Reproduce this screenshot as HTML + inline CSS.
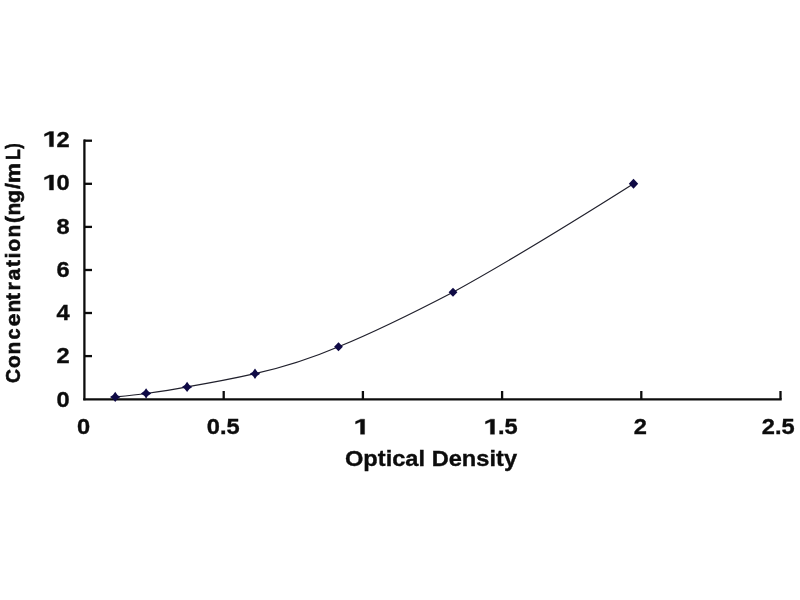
<!DOCTYPE html>
<html>
<head>
<meta charset="utf-8">
<style>
html,body{margin:0;padding:0;background:#fff;}
body{width:800px;height:600px;overflow:hidden;font-family:"Liberation Sans",sans-serif;}
.yt text{stroke-width:0.6px;}
svg{display:block;will-change:transform;opacity:0.999;}
text{font-family:"Liberation Sans",sans-serif;font-weight:bold;fill:#0c0c0c;stroke:#0c0c0c;stroke-width:0.35px;}
</style>
</head>
<body>
<svg width="800" height="600" viewBox="0 0 800 600">
<rect x="0" y="0" width="800" height="600" fill="#ffffff"/>
<g stroke="#0c0c0c" stroke-width="2.3" fill="none">
<line x1="84.4" y1="139.5" x2="84.4" y2="400.3"/>
<line x1="83.3" y1="399.3" x2="781.7" y2="399.3"/>
<line x1="84" y1="356.1" x2="92" y2="356.1"/>
<line x1="84" y1="313.0" x2="92" y2="313.0"/>
<line x1="84" y1="270.0" x2="92" y2="270.0"/>
<line x1="84" y1="226.9" x2="92" y2="226.9"/>
<line x1="84" y1="183.8" x2="92" y2="183.8"/>
<line x1="84" y1="140.7" x2="92" y2="140.7"/>
<line x1="223.7" y1="391" x2="223.7" y2="399.2"/>
<line x1="362.9" y1="391" x2="362.9" y2="399.2"/>
<line x1="502.1" y1="391" x2="502.1" y2="399.2"/>
<line x1="641.3" y1="391" x2="641.3" y2="399.2"/>
<line x1="780.5" y1="391" x2="780.5" y2="399.2"/>
</g>
<text transform="translate(69.6,406.7) scale(1.075,1)" font-size="22" text-anchor="end">0</text>
<text transform="translate(69.6,363.4) scale(1.075,1)" font-size="22" text-anchor="end">2</text>
<text transform="translate(69.6,319.9) scale(1.075,1)" font-size="22" text-anchor="end">4</text>
<text transform="translate(69.6,276.5) scale(1.075,1)" font-size="22" text-anchor="end">6</text>
<text transform="translate(69.6,233.6) scale(1.075,1)" font-size="22" text-anchor="end">8</text>
<polygon points="49.40,190.10 49.40,177.53 44.46,179.80 44.46,177.42 49.62,174.96 53.50,174.96 53.50,190.10" fill="#0c0c0c" stroke="#0c0c0c" stroke-width="0.35"/>
<text transform="translate(69.6,190.1) scale(1.075,1)" font-size="22" text-anchor="end">0</text>
<polygon points="49.40,146.70 49.40,134.13 44.46,136.40 44.46,134.02 49.62,131.56 53.50,131.56 53.50,146.70" fill="#0c0c0c" stroke="#0c0c0c" stroke-width="0.35"/>
<text transform="translate(69.6,146.7) scale(1.075,1)" font-size="22" text-anchor="end">2</text>
<text transform="translate(83.5,434.3) scale(1.075,1)" font-size="22" text-anchor="middle">0</text>
<text transform="translate(223.25,434.3) scale(1.075,1)" font-size="22" text-anchor="middle">0.5</text>
<text transform="translate(640.4,434.3) scale(1.075,1)" font-size="22" text-anchor="middle">2</text>
<text transform="translate(778.25,434.3) scale(1.075,1)" font-size="22" text-anchor="middle">2.5</text>
<polygon points="360.50,434.30 360.50,421.73 355.56,424.00 355.56,421.62 360.72,419.16 364.60,419.16 364.60,434.30" fill="#0c0c0c" stroke="#0c0c0c" stroke-width="0.35"/>
<polygon points="490.40,434.30 490.40,421.73 485.46,424.00 485.46,421.62 490.62,419.16 494.50,419.16 494.50,434.30" fill="#0c0c0c" stroke="#0c0c0c" stroke-width="0.35"/>
<text transform="translate(498.0,434.3) scale(1.075,1)" font-size="22" text-anchor="start">.5</text>
<text transform="translate(431,465.6) scale(1.075,1)" font-size="22" text-anchor="middle">Optical Density</text>
<g class="yt" font-size="21" text-anchor="middle">
<text transform="translate(20.3,376.0) rotate(-90) scale(0.92,1)">C</text>
<text transform="translate(20.3,361.5) rotate(-90) scale(1,1)">o</text>
<text transform="translate(20.3,348.0) rotate(-90) scale(1,1)">n</text>
<text transform="translate(20.3,334.0) rotate(-90) scale(0.94,1)">c</text>
<text transform="translate(20.3,320.0) rotate(-90) scale(1.08,1)">e</text>
<text transform="translate(20.3,306.0) rotate(-90) scale(1,1)">n</text>
<text transform="translate(20.3,296.5) rotate(-90) scale(1,1)">t</text>
<text transform="translate(20.3,286.5) rotate(-90) scale(1,1)">r</text>
<text transform="translate(20.3,274.5) rotate(-90) scale(1,1)">a</text>
<text transform="translate(20.3,263.5) rotate(-90) scale(1,1)">t</text>
<text transform="translate(20.3,255.5) rotate(-90) scale(1,1)">i</text>
<text transform="translate(20.3,245.0) rotate(-90) scale(1,1)">o</text>
<text transform="translate(20.3,231.0) rotate(-90) scale(1,1)">n</text>
<text transform="translate(20.3,219.5) rotate(-90) scale(1,1)">(</text>
<text transform="translate(20.3,209.0) rotate(-90) scale(1,1)">n</text>
<text transform="translate(20.3,196.5) rotate(-90) scale(1,1)">g</text>
<text transform="translate(20.3,186.0) rotate(-90) scale(1,1)">/</text>
<text transform="translate(20.3,173.0) rotate(-90) scale(1.08,1)">m</text>
<text transform="translate(20.3,154.5) rotate(-90) scale(0.84,1)">L</text>
<text transform="translate(20.3,146.0) rotate(-90) scale(0.78,1)">)</text>
</g>
<path d="M115.2,396.9 C125,396 136,395 146.1,393.5 C160,391.6 174,389.4 187.1,386.9 C210,383 233,378.7 255,373.7 C283,367.4 311,358.6 338.5,346.8 C377,331 415,312 453,292.2 C513,259.2 573,222 633.5,183.75" fill="none" stroke="#20202c" stroke-width="1.2"/>
<g fill="#0f0a45">
<path d="M115.2,391.70 Q116.90,395.20 120.40,396.9 Q116.90,398.60 115.2,402.10 Q113.50,398.60 110.00,396.9 Q113.50,395.20 115.2,391.70z"/>
<path d="M146.1,388.30 Q147.80,391.80 151.30,393.5 Q147.80,395.20 146.1,398.70 Q144.40,395.20 140.90,393.5 Q144.40,391.80 146.1,388.30z"/>
<path d="M187.1,381.70 Q188.80,385.20 192.30,386.9 Q188.80,388.60 187.1,392.10 Q185.40,388.60 181.90,386.9 Q185.40,385.20 187.1,381.70z"/>
<path d="M255,368.50 Q256.70,372.00 260.20,373.7 Q256.70,375.40 255,378.90 Q253.30,375.40 249.80,373.7 Q253.30,372.00 255,368.50z"/>
<path d="M338.5,342.3 l4.4,4.5 l-4.4,4.5 l-4.4,-4.5z"/>
<path d="M453,287.7 l4.4,4.5 l-4.4,4.5 l-4.4,-4.5z"/>
<path d="M633.5,178.75 l4.7,5.0 l-4.7,5.0 l-4.7,-5.0z"/>
</g>
</svg>
</body>
</html>
